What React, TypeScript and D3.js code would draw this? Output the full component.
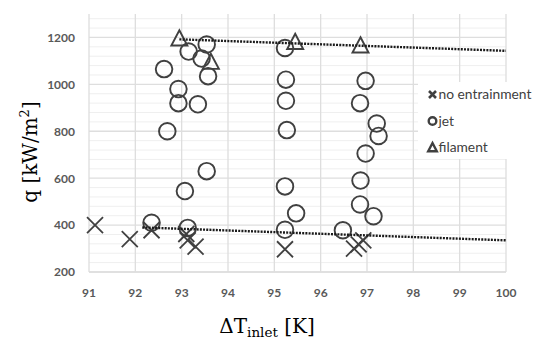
import { useEffect, useRef } from 'react';
import * as d3 from 'd3';

// dT_inlet [K] and q [kW/m2]
const noEntrainX = [91.13, 91.88, 92.35, 93.1, 93.13, 93.3, 95.23, 96.72, 96.82, 96.92];
const noEntrainQ = [400, 340, 378, 362, 335, 308, 297, 300, 318, 335];

const jetX = [92.35, 92.62, 92.69, 92.93, 92.93, 93.07, 93.13, 93.15, 93.35, 93.43, 93.54, 93.54, 93.57,
  95.23, 95.25, 95.25, 95.27, 95.23, 95.47, 95.23,
  96.48, 96.85, 96.86, 96.85, 96.97, 96.97, 97.14, 97.21, 97.25];
const jetQ = [410, 1065, 800, 980, 920, 545, 388, 1140, 915, 1110, 1170, 630, 1035,
  1155, 1020, 930, 805, 565, 450, 380,
  378, 488, 590, 920, 705, 1015, 438, 833, 780];

const filamentX = [92.95, 93.63, 95.45, 96.86];
const filamentQ = [1195, 1095, 1180, 1165];

// dotted trend lines (start, end)
const upperTrendX = [92.95, 100];
const upperTrendQ = [1192, 1143];
const lowerTrendX = [92.15, 100];
const lowerTrendQ = [390, 335];

const xTicks = [91, 92, 93, 94, 95, 96, 97, 98, 99, 100];
const yTicks = [200, 400, 600, 800, 1000, 1200];
const legendLabels = ['no entrainment', 'jet', 'filament'];

const W = 545, H = 340;
const ink = '#404040';

export default function App() {
  const ref = useRef<SVGSVGElement>(null);

  useEffect(() => {
    if (!ref.current) return;
    const svg = d3.select(ref.current);
    svg.selectAll('*').remove();

    const x = d3.scaleLinear().domain([91, 100]).range([89, 506]);
    const y = d3.scaleLinear().domain([200, 1300]).range([272, 14]);

    // gridlines
    const minor = d3.range(240, 1300, 40).filter(v => v % 200 !== 0);
    svg.append('g').selectAll('line').data(minor).join('line')
      .attr('x1', x(91)).attr('x2', x(100))
      .attr('y1', d => y(d)).attr('y2', d => y(d))
      .attr('stroke', '#efefef').attr('stroke-width', 1);
    svg.append('g').selectAll('line').data(yTicks).join('line')
      .attr('x1', x(91)).attr('x2', x(100))
      .attr('y1', d => y(d)).attr('y2', d => y(d))
      .attr('stroke', d => d === 200 ? '#d6d6d6' : '#dedede').attr('stroke-width', 1.3);
    svg.append('g').selectAll('line').data(xTicks).join('line')
      .attr('x1', d => x(d)).attr('x2', d => x(d))
      .attr('y1', y(1300)).attr('y2', y(200))
      .attr('stroke', '#dedede').attr('stroke-width', 1.3);

    // tick labels
    const tickFont = { family: 'Lato, sans-serif', size: 12, weight: 700, color: '#595959' };
    svg.append('g').selectAll('text').data(xTicks).join('text')
      .attr('x', d => x(d)).attr('y', 296.5)
      .attr('text-anchor', 'middle')
      .attr('font-family', tickFont.family).attr('font-size', tickFont.size)
      .attr('font-weight', tickFont.weight).attr('fill', tickFont.color)
      .text(d => d);
    svg.append('g').selectAll('text').data(yTicks).join('text')
      .attr('x', 75).attr('y', d => y(d)).attr('dy', '0.36em')
      .attr('text-anchor', 'end')
      .attr('font-family', tickFont.family).attr('font-size', tickFont.size)
      .attr('font-weight', tickFont.weight).attr('fill', tickFont.color)
      .text(d => d);

    // markers
    const cross = (g: any, cx: number, cy: number, r: number, sw: number) => {
      g.append('path')
        .attr('d', `M${cx - r},${cy - r}L${cx + r},${cy + r}M${cx - r},${cy + r}L${cx + r},${cy - r}`)
        .attr('stroke', ink).attr('stroke-width', sw).attr('fill', 'none');
    };
    const tri = (g: any, cx: number, cy: number, r: number, sw: number) => {
      const h = r * 1.9;
      g.append('path')
        .attr('d', `M${cx},${cy - h * 0.55}L${cx + r},${cy + h * 0.45}L${cx - r},${cy + h * 0.45}Z`)
        .attr('stroke', ink).attr('stroke-width', sw).attr('fill', 'none');
    };

    const pts = svg.append('g');
    noEntrainX.forEach((v, i) => cross(pts, x(v), y(noEntrainQ[i]), 8, 1.8));
    pts.selectAll('circle').data(jetX).join('circle')
      .attr('cx', d => x(d)).attr('cy', (_, i) => y(jetQ[i])).attr('r', 8.3)
      .attr('fill', 'none').attr('stroke', ink).attr('stroke-width', 1.9);
    filamentX.forEach((v, i) => tri(pts, x(v), y(filamentQ[i]), 8, 1.9));

    // trend lines
    const trend = (xs: number[], qs: number[]) => {
      svg.append('path')
        .attr('d', d3.line<number>()
          .x(d => x(xs[d]))
          .y(d => y(qs[d]))([0, 1]))
        .attr('fill', 'none').attr('stroke', '#1a1a1a')
        .attr('stroke-width', 2.4).attr('stroke-dasharray', '2 1.2');
    };
    trend(upperTrendX, upperTrendQ);
    trend(lowerTrendX, lowerTrendQ);

    // legend
    const lg = svg.append('g');
    lg.append('rect').attr('x', 418).attr('y', 82).attr('width', 124).attr('height', 77).attr('fill', '#fff');
    const ly = [94.5, 121, 147];
    cross(lg, 432.5, ly[0], 3.5, 2.6);
    lg.append('circle').attr('cx', 432.5).attr('cy', ly[1]).attr('r', 3.8)
      .attr('fill', 'none').attr('stroke', ink).attr('stroke-width', 2.4);
    tri(lg, 432.5, ly[2] + 0.5, 4.3, 2.4);
    lg.selectAll('text').data(legendLabels).join('text')
      .attr('x', 438.5).attr('y', (_, i) => ly[i]).attr('dy', '0.35em')
      .attr('font-family', 'Lato, sans-serif').attr('font-size', 13.8)
      .attr('fill', ink)
      .text(d => d);

    // axis titles
    const yt = svg.append('text')
      .attr('transform', 'translate(37,152) rotate(-90)')
      .attr('text-anchor', 'middle')
      .attr('font-family', '"DejaVu Serif", serif').attr('font-size', 20)
      .attr('fill', '#000');
    yt.append('tspan').text('q [kW/m');
    yt.append('tspan').attr('font-size', 13).attr('dy', -8).text('2');
    yt.append('tspan').attr('dy', 8).text(']');

    const xt = svg.append('text')
      .attr('x', 267).attr('y', 333)
      .attr('text-anchor', 'middle')
      .attr('font-family', '"DejaVu Serif", serif').attr('font-size', 20)
      .attr('fill', '#000');
    xt.append('tspan').text('ΔT');
    xt.append('tspan').attr('font-size', 13.5).attr('dy', 4).text('inlet');
    xt.append('tspan').attr('dy', -4).text(' [K]');
  }, []);

  return (
    <svg ref={ref} width={W} height={H}
      style={{ position: 'absolute', left: 0, top: 0, background: '#fff' }} />
  );
}
